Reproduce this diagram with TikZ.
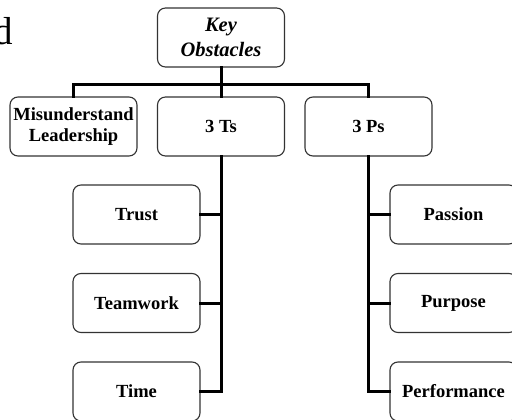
\documentclass[tikz,border=0pt]{standalone}
\usepackage{fontspec}
\setmainfont{Liberation Serif}
\begin{document}
\begin{tikzpicture}[x=1pt,y=-1pt,
  box/.style={draw=black!80,line width=1.1pt,rounded corners=8pt,
    minimum width=127pt,minimum height=59pt,align=center,inner sep=1pt,
    font=\fontsize{18.5}{20.5}\selectfont\bfseries},
  keybox/.style={box,font=\fontsize{20.5}{25}\selectfont\bfseries\itshape},
  link/.style={line width=3pt,line cap=rect}]
\clip (0,0) rectangle (512,420);
\fill[white] (0,0) rectangle (512,420);

% stray heading fragment at the top left
\node[anchor=base east,inner sep=0pt,font=\fontsize{39}{42}\selectfont] (frag) at (13.5,45) {d};

% top level
\node[keybox] (key) at (221,37.5) {Key\\Obstacles};

% second level
\node[box] (mis) at (73.5,126.5) {Misunderstand\\Leadership};
\node[box] (ts) at (221,126.5) {3 Ts};
\node[box] (ps) at (368.5,126.5) {3 Ps};

% third level, left column
\node[box] (trust) at (136.5,214.5) {Trust};
\node[box] (team) at (136.5,303) {Teamwork};
\node[box] (time) at (136.5,391.5) {Time};

% third level, right column
\node[box] (passion) at (453.5,214.5) {Passion};
\node[box] (purpose) at (453.5,303) {Purpose};
\node[box] (perf) at (453.5,391.5) {Performance};

% bus joining the second level
\coordinate (busK) at (key.south |- 0,85);
\draw[link] (key.south) -- (busK);
\draw[link] (mis.north) -- (mis.north |- busK) -- (ps.north |- busK) -- (ps.north);
\draw[link] (ts.north) -- (ts.north |- busK);

% trunk of the 3 Ts
\draw[link] (ts.south) -- (ts.south |- time.east) -- (time.east);
\draw[link] (trust.east) -- (trust.east -| ts.south);
\draw[link] (team.east) -- (team.east -| ts.south);

% trunk of the 3 Ps
\draw[link] (ps.south) -- (ps.south |- perf.west) -- (perf.west);
\draw[link] (passion.west) -- (passion.west -| ps.south);
\draw[link] (purpose.west) -- (purpose.west -| ps.south);
\end{tikzpicture}
\end{document}
